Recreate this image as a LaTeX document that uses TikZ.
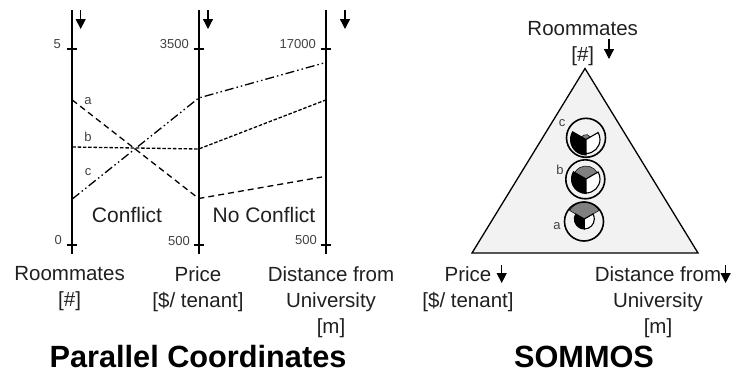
\documentclass[tikz,border=0pt]{standalone}
\usepackage{fontspec}
\setmainfont{Liberation Sans}
\usetikzlibrary{arrows.meta}
\definecolor{txt}{HTML}{202020}
\tikzset{x=1pt,y=-1pt,
 axisline/.style={line width=1.7pt,black},
 tickmark/.style={line width=1.3pt,black},
 downarrow/.style={line width=1.3pt,black,-{Triangle[length=10pt,width=10pt]}},
 lab/.style={font=\fontsize{20.5}{26}\selectfont,text=txt,align=center,inner sep=0pt},
 mid/.style={font=\fontsize{21}{25}\selectfont,text=txt,inner sep=0pt},
 small/.style={font=\fontsize{13}{15}\selectfont,text=txt!85,inner sep=0pt},
 ttl/.style={font=\bfseries\fontsize{30.7}{34}\selectfont,text=black,inner sep=0pt,anchor=base},
 dd/.style={line width=1.3pt,dash pattern=on 6pt off 4pt},
 ds/.style={line width=1.3pt,dash pattern=on 3.5pt off 1.8pt},
 dc/.style={line width=1.3pt,dash pattern=on 9pt off 3pt on 1.5pt off 3pt on 1.5pt off 3pt},
 ring/.style={draw=black,line width=1.6pt,fill=none},
}
\newcommand{\glyph}[5]{%
 \begin{scope}[shift={(#1,#2)},y=1pt]
 \filldraw[fill=black!50,draw=black,line width=.5pt] (0,0) -- (30:#3) arc[start angle=30,end angle=150,radius=#3] -- cycle;
 \filldraw[fill=black,draw=black,line width=1pt] (0,0) -- (150:#4) arc[start angle=150,end angle=270,radius=#4] -- cycle;
 \filldraw[fill=white,draw=black,line width=1.1pt] (0,0) -- (-90:#5) arc[start angle=-90,end angle=30,radius=#5] -- cycle;
 \end{scope}}
\begin{document}
\begin{tikzpicture}
\useasboundingbox (0,0) rectangle (731,372);
\foreach \x in {72.3,198.7,325.7}{\draw[axisline] (\x,10) -- (\x,254);
 \draw[tickmark] (\x-5,49) -- (\x+5,49); \draw[tickmark] (\x-5,245) -- (\x+5,245);}
\coordinate (ar1a) at (80.7,10); \coordinate (ar1b) at (80.7,29);
\coordinate (ar2a) at (208,10); \coordinate (ar2b) at (208,29);
\coordinate (ar3a) at (345,10); \coordinate (ar3b) at (345,29);
\draw[downarrow] (ar1a) -- (ar1b);
\draw[downarrow] (ar2a) -- (ar2b);
\draw[downarrow] (ar3a) -- (ar3b);
\node[small,anchor=east] (t1) at (61,44) {5};
\node[small,anchor=east] (t2) at (189,44.5) {3500};
\node[small,anchor=east] (t3) at (316,44) {17000};
\node[small,anchor=east] (b1) at (62,240) {0};
\node[small,anchor=east] (b2) at (190,241) {500};
\node[small,anchor=east] (b3) at (317,240) {500};
\draw[dd] (72.3,100) -- (198.7,198.5) -- (322,177);
\draw[ds] (72.3,147) -- (198.7,149) -- (325.7,100);
\draw[dc] (72.3,199) -- (198.7,98) -- (325.7,62.5);
\node[small] (la) at (88,101.5) {a};
\node[small] (lb) at (88,136.5) {b};
\node[small] (lc) at (88,172.5) {c};
\node[mid] (cf) at (127,215) {Conflict};
\node[mid] (ncf) at (264,215) {No Conflict};
\node[lab,anchor=north] (r1) at (69.6,266) {Roommates\\{[}\#{]}};
\node[lab,anchor=north] (r2) at (198,266) {Price\\{[}\$/ tenant{]}};
\node[lab,anchor=north] (r3) at (331,266) {Distance from\\University\\{[}m{]}};
\node[ttl] (pc) at (198,367) {Parallel Coordinates};
\node[ttl] (so) at (584,367) {SOMMOS};
\path[fill=black!5,draw=black,line width=1.3pt] (585,68.5) -- (698,253) -- (472,253) -- cycle;
\glyph{586}{139.5}{5}{15.5}{14}
\glyph{586}{179}{13}{14.5}{14}
\glyph{584.3}{219}{17}{10}{10}
\draw[ring] (586,137.8) circle[radius=19.5];
\draw[ring] (585.3,179.3) circle[radius=19.5];
\draw[ring] (584,221.5) circle[radius=19.5];
\node[small] (gc) at (562,123) {c};
\node[small] (gb) at (560,170) {b};
\node[small] (ga) at (557,226) {a};
\node[lab,anchor=north] (s1) at (582.7,21) {Roommates\\{[}\#{]}};
\node[lab,anchor=north] (s2) at (468,266) {Price\\{[}\$/ tenant{]}};
\node[lab,anchor=north] (s3) at (658,266) {Distance from\\University\\{[}m{]}};
\coordinate (sa1) at (609,39); \coordinate (sa1b) at (609,59);
\coordinate (sa2) at (501.7,265); \coordinate (sa2b) at (501.7,283);
\coordinate (sa3) at (725.6,265); \coordinate (sa3b) at (725.6,283);
\draw[downarrow] (sa1) -- (sa1b);
\draw[downarrow] (sa2) -- (sa2b);
\draw[downarrow] (sa3) -- (sa3b);
\end{tikzpicture}
\end{document}
